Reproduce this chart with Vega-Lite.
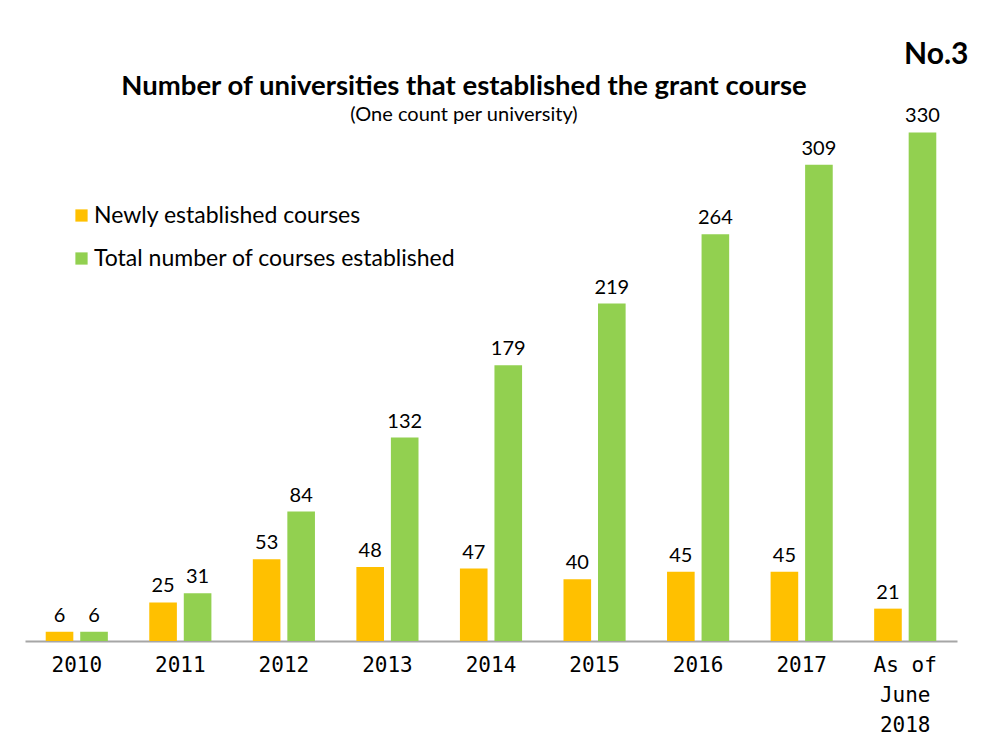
{
  "$schema": "https://vega.github.io/schema/vega-lite/v6.json",
  "width": 932,
  "height": 601,
  "padding": {"left": 25, "top": 39, "right": 25, "bottom": 5},
  "background": "white",
  "config": {"view": {"stroke": null}},
  "title": {
    "text": "Number of universities that established the grant course",
    "subtitle": "(One count per university)",
    "anchor": "middle",
    "frame": "group",
    "dx": -27,
    "offset": -86,
    "font": "Lato",
    "fontSize": 27.5,
    "fontWeight": "bold",
    "color": "#000000",
    "subtitleFont": "Lato",
    "subtitleFontSize": 20,
    "subtitleColor": "#000000",
    "subtitlePadding": 5
  },
  "data": {
    "values": [
      {"year": "2010", "series": "Newly established courses", "value": 6},
      {"year": "2010", "series": "Total number of courses established", "value": 6},
      {"year": "2011", "series": "Newly established courses", "value": 25},
      {"year": "2011", "series": "Total number of courses established", "value": 31},
      {"year": "2012", "series": "Newly established courses", "value": 53},
      {"year": "2012", "series": "Total number of courses established", "value": 84},
      {"year": "2013", "series": "Newly established courses", "value": 48},
      {"year": "2013", "series": "Total number of courses established", "value": 132},
      {"year": "2014", "series": "Newly established courses", "value": 47},
      {"year": "2014", "series": "Total number of courses established", "value": 179},
      {"year": "2015", "series": "Newly established courses", "value": 40},
      {"year": "2015", "series": "Total number of courses established", "value": 219},
      {"year": "2016", "series": "Newly established courses", "value": 45},
      {"year": "2016", "series": "Total number of courses established", "value": 264},
      {"year": "2017", "series": "Newly established courses", "value": 45},
      {"year": "2017", "series": "Total number of courses established", "value": 309},
      {"year": "As of June 2018", "series": "Newly established courses", "value": 21},
      {"year": "As of June 2018", "series": "Total number of courses established", "value": 330}
    ]
  },
  "encoding": {
    "x": {
      "field": "year",
      "type": "nominal",
      "sort": null,
      "scale": {"paddingInner": 0.4, "paddingOuter": 0.2},
      "axis": {
        "title": null,
        "labelAngle": 0,
        "labelFont": "DejaVu Sans Mono",
        "labelFontSize": 21,
        "labelColor": "#000000",
        "labelPadding": 13,
        "labelLineHeight": 30,
        "labelBaseline": "top",
        "labelExpr": "datum.value == 'As of June 2018' ? ['As of', 'June', '2018'] : datum.value",
        "ticks": false,
        "domainColor": "#a6a6a6",
        "domainWidth": 2,
        "grid": false
      }
    },
    "y": {
      "field": "value",
      "type": "quantitative",
      "scale": {"domain": [0, 390], "nice": false},
      "axis": {
        "orient": "right",
        "title": "No.3",
        "titleAngle": 0,
        "titleAlign": "right",
        "titleBaseline": "middle",
        "titleX": 11,
        "titleY": 14,
        "titleFont": "Lato",
        "titleFontSize": 30,
        "titleFontWeight": "bold",
        "titleColor": "#000000",
        "labels": false,
        "ticks": false,
        "domain": false,
        "grid": false
      }
    }
  },
  "layer": [
    {
      "mark": {"type": "bar"},
      "encoding": {
        "xOffset": {"field": "series", "type": "nominal", "scale": {"paddingInner": 0.2}},
        "color": {
          "field": "series",
          "type": "nominal",
          "scale": {
            "domain": ["Newly established courses", "Total number of courses established"],
            "range": ["#FFC000", "#92D050"]
          },
          "legend": {
            "title": null,
            "orient": "none",
            "legendX": 45,
            "legendY": 164,
            "symbolType": "square",
            "symbolSize": 150,
            "symbolStrokeWidth": 0,
            "labelFont": "Lato",
            "labelFontSize": 23,
            "labelColor": "#000000",
            "rowPadding": 19,
            "labelOffset": 1,
            "labelLimit": 600
          }
        }
      }
    },
    {
      "mark": {"type": "text", "baseline": "bottom", "dy": -6, "font": "Lato", "fontSize": 20, "color": "#000000"},
      "encoding": {
        "xOffset": {"field": "series", "type": "nominal", "scale": {"paddingInner": 0.2}},
        "text": {"field": "value", "type": "quantitative"}
      }
    }
  ]
}
